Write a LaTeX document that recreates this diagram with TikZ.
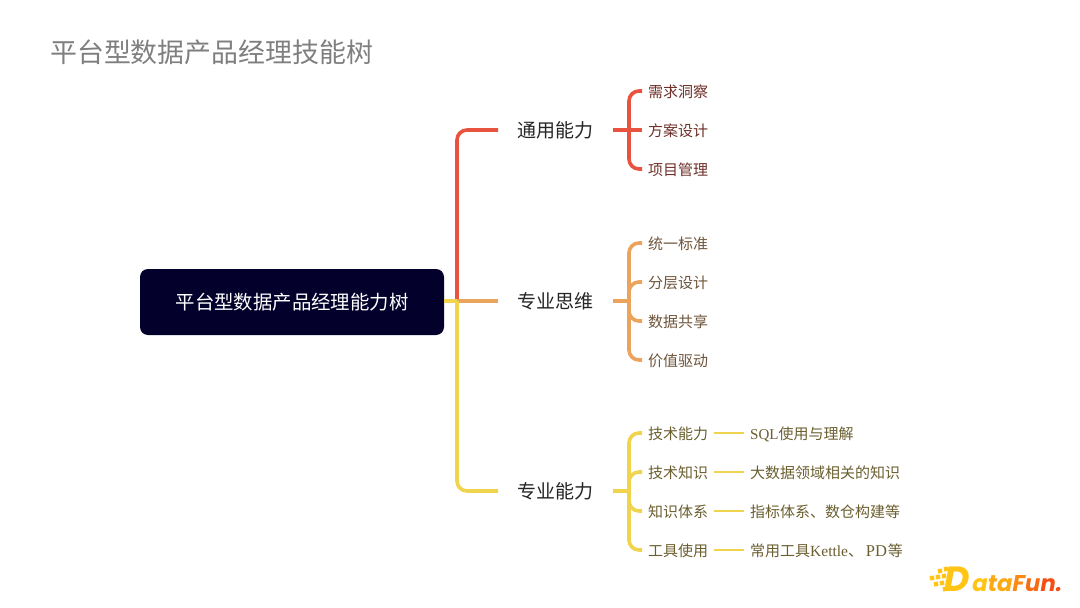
\documentclass[tikz,border=0pt]{standalone}
\usepackage{fontspec}
\setmainfont{Noto Sans CJK SC}
\newfontfamily\latserif{Liberation Serif}
\newfontfamily\logofont[FakeSlant=0.18]{Poppins}
\definecolor{cred}{HTML}{E8533F}
\definecolor{corange}{HTML}{EBA45B}
\definecolor{cyellow}{HTML}{F0D44E}
\definecolor{tred}{HTML}{6E3029}
\definecolor{torange}{HTML}{6F553C}
\definecolor{tyellow}{HTML}{6B5F30}
\definecolor{rootfill}{HTML}{03012B}
\definecolor{titlegray}{HTML}{7F7F7F}
\definecolor{logoA}{HTML}{FFC414}
\definecolor{logoB}{HTML}{FDA913}
\definecolor{logoC}{HTML}{FB8A14}
\definecolor{logoD}{HTML}{F96A14}
\definecolor{logoE}{HTML}{F54E14}
\tikzset{
  x=1pt,y=-1pt,
  rootbox/.style={fill=rootfill,rounded corners=8pt,minimum width=304pt,minimum height=66pt,inner sep=0pt,text=white,font=\fontsize{19.4}{22}\selectfont},
  branchnode/.style={inner xsep=19.5pt,inner ysep=2pt,text=black!85,font=\fontsize{19}{22}\selectfont},
  leafnode/.style={inner xsep=6pt,inner ysep=1pt,text height=13.4pt,text depth=0.9pt,font=\fontsize{15}{18}\selectfont},
  detailnode/.style={inner xsep=6pt,inner ysep=1pt,text height=13.4pt,text depth=0.9pt,text=tyellow,font=\fontsize{15}{18}\selectfont},
  link/.style={line width=3.6pt,line cap=butt},
  curve/.style={link,rounded corners=10pt},
  logosq/.style={inner sep=0pt,minimum size=4.4pt,rotate=8},
}
\begin{document}
\begin{tikzpicture}
\useasboundingbox[fill=white] (0,0) rectangle (1080,608);
\node[anchor=west,inner sep=0pt,text=titlegray,font=\fontsize{26.9}{30}\selectfont] (title) at (50,52) {平台型数据产品经理技能树};
\node[rootbox] (root) at (292,302) {平台型数据产品经理能力树};
\node[branchnode,anchor=west] (b1) at (498,130) {通用能力};
\node[branchnode,anchor=west] (b2) at (498,301) {专业思维};
\node[branchnode,anchor=west] (b3) at (498,491) {专业能力};
\coordinate (j0) at (457,301);
\coordinate (j1) at (629,130);
\coordinate (j2) at (629,301);
\coordinate (j3) at (629,491);
% leaves
\node[leafnode,anchor=west,text=tred] (a1) at (642,91) {需求洞察};
\node[leafnode,anchor=west,text=tred] (a2) at (642,130) {方案设计};
\node[leafnode,anchor=west,text=tred] (a3) at (642,169) {项目管理};
\node[leafnode,anchor=west,text=torange] (c1) at (642,243) {统一标准};
\node[leafnode,anchor=west,text=torange] (c2) at (642,282) {分层设计};
\node[leafnode,anchor=west,text=torange] (c3) at (642,321) {数据共享};
\node[leafnode,anchor=west,text=torange] (c4) at (642,360) {价值驱动};
\node[leafnode,anchor=west,text=tyellow] (d1) at (642,433) {技术能力};
\node[leafnode,anchor=west,text=tyellow] (d2) at (642,472) {技术知识};
\node[leafnode,anchor=west,text=tyellow] (d3) at (642,511) {知识体系};
\node[leafnode,anchor=west,text=tyellow] (d4) at (642,550) {工具使用};
\node[detailnode,anchor=west] (e1) at (744,433) {{\latserif SQL}使用与理解};
\node[detailnode,anchor=west] (e2) at (744,472) {大数据领域相关的知识};
\node[detailnode,anchor=west] (e3) at (744,511) {指标体系、数仓构建等};
\node[detailnode,anchor=west] (e4) at (744,550) {常用工具{\latserif\fontsize{15.5}{18}\selectfont Kettle}、\hspace{2.8pt}{\latserif\fontsize{16.5}{18}\selectfont PD}\hspace{1pt}等};
% level 1
\draw[link,cred] (root.east |- j0) -- (j0);
\draw[curve,cred] (j0) |- (b1.west);
\draw[link,corange] (j0) -- (b2.west);
\draw[link,cyellow] (root.east |- j0) -- (j0);
\draw[curve,cyellow] (j0) |- (b3.west);
% red bracket
\draw[link,cred] (b1.east) -- (a2.west);
\draw[curve,cred] (j1) |- (a1.west);
\draw[curve,cred] (j1) |- (a3.west);
% orange bracket
\draw[link,corange] (b2.east) -- (j2);
\draw[curve,corange] (j2) |- (c1.west);
\draw[curve,corange] (j2) |- (c2.west);
\draw[curve,corange] (j2) |- (c3.west);
\draw[curve,corange] (j2) |- (c4.west);
% yellow bracket
\draw[link,cyellow] (b3.east) -- (j3);
\draw[curve,cyellow] (j3) |- (d1.west);
\draw[curve,cyellow] (j3) |- (d2.west);
\draw[curve,cyellow] (j3) |- (d3.west);
\draw[curve,cyellow] (j3) |- (d4.west);
% details
\draw[link,line width=2.6pt,cyellow] (d1.east) -- (e1.west);
\draw[link,line width=2.6pt,cyellow] (d2.east) -- (e2.west);
\draw[link,line width=2.6pt,cyellow] (d3.east) -- (e3.west);
\draw[link,line width=2.6pt,cyellow] (d4.east) -- (e4.west);
% logo
\node[anchor=base east,inner sep=0pt,font={\logofont\bfseries\fontsize{35}{40}\selectfont},text=logoA] (logoD) at (968,591) {D};
\node[anchor=base west,inner sep=0pt,font={\logofont\bfseries\fontsize{22.8}{30}\selectfont}] (logoT) at (971,591) {\textcolor{logoA}{a}\textcolor{logoB}{t}\textcolor{logoB}{a}\textcolor{logoC}{F}\textcolor{logoD}{u}\textcolor{logoE}{n}\textcolor{logoE}{.}};
\foreach \px/\py/\c in {940/571/logoA,946/569/logoA,932/578/logoA,938/577/logoA,944/576/logoA,936/584/logoA,942/583/logoA,948/582/logoA,945/589/logoA}{
  \node[logosq,fill=\c] at (\px,\py) {};
}
\end{tikzpicture}
\end{document}
